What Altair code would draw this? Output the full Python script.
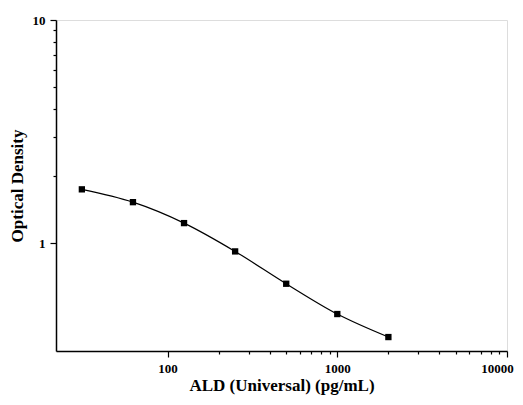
import altair as alt
import pandas as pd

conc = [31.25, 62.5, 125, 250, 500, 1000, 2000]
od = [1.746, 1.53, 1.233, 0.921, 0.66, 0.483, 0.381]

x_major = [100, 1000, 10000]
x_minor = [200, 300, 400, 500, 600, 700, 800, 900,
           2000, 3000, 4000, 5000, 6000, 7000, 8000, 9000]
y_major = [1, 10]
y_minor = [2, 3, 4, 5, 6, 7, 8, 9]

df = pd.DataFrame({"conc": conc, "od": od})

FONT = "Liberation Serif"
xscale = alt.Scale(type="log", domain=[22, 10000], nice=False)
yscale = alt.Scale(type="log", domain=[0.33, 10], nice=False)

xaxis = alt.Axis(values=x_major, format="d", tickSize=6, tickWidth=1.2, tickColor="black",
                 domainColor="black", domainWidth=1.5, labelFont=FONT, labelFontWeight="bold",
                 labelFontSize=13, labelColor="black", labelPadding=5, grid=False,
                 labelOffset={"condition": {"test": "datum.value == 10000", "value": -10}, "value": 0},
                 title="ALD (Universal) (pg/mL)", titleFont=FONT, titleFontWeight="bold",
                 titleFontSize=17, titleColor="black", titlePadding=2, labelFlush=False,
                 labelOverlap=False)
yaxis = alt.Axis(values=y_major, format="d", tickSize=6, tickWidth=1.2, tickColor="black",
                 domainColor="black", domainWidth=1.5, labelFont=FONT, labelFontWeight="bold",
                 labelFontSize=13, labelColor="black", labelPadding=5, grid=False,
                 title="Optical Density", titleFont=FONT, titleFontWeight="bold",
                 titleFontSize=17, titleColor="black", titlePadding=6, labelFlush=False,
                 labelOverlap=False)

line = alt.Chart(df).mark_line(color="black", strokeWidth=1.2, interpolate="monotone").encode(
    x=alt.X("conc:Q", scale=xscale, axis=xaxis),
    y=alt.Y("od:Q", scale=yscale, axis=yaxis),
)

pts = alt.Chart(df).mark_point(shape="square", filled=True, color="black", size=40, opacity=1).encode(
    x=alt.X("conc:Q", scale=xscale,
            axis=alt.Axis(values=x_minor, labels=False, tickSize=3, tickWidth=1.2,
                          tickColor="black", domain=False, grid=False, title=None, orient="bottom")),
    y=alt.Y("od:Q", scale=yscale,
            axis=alt.Axis(values=y_minor, labels=False, tickSize=3, tickWidth=1.2,
                          tickColor="black", domain=False, grid=False, title=None, orient="left")),
)

chart = alt.layer(line, pts).resolve_axis(x="independent", y="independent").properties(
    width=451, height=331,
    autosize=alt.AutoSizeParams(type="none"),
    padding={"left": 48, "top": 12, "right": 8, "bottom": 45},
).configure_view(stroke=None).configure(background="white")

chart.save("out.html", embed_options={"renderer": "svg", "actions": False})
